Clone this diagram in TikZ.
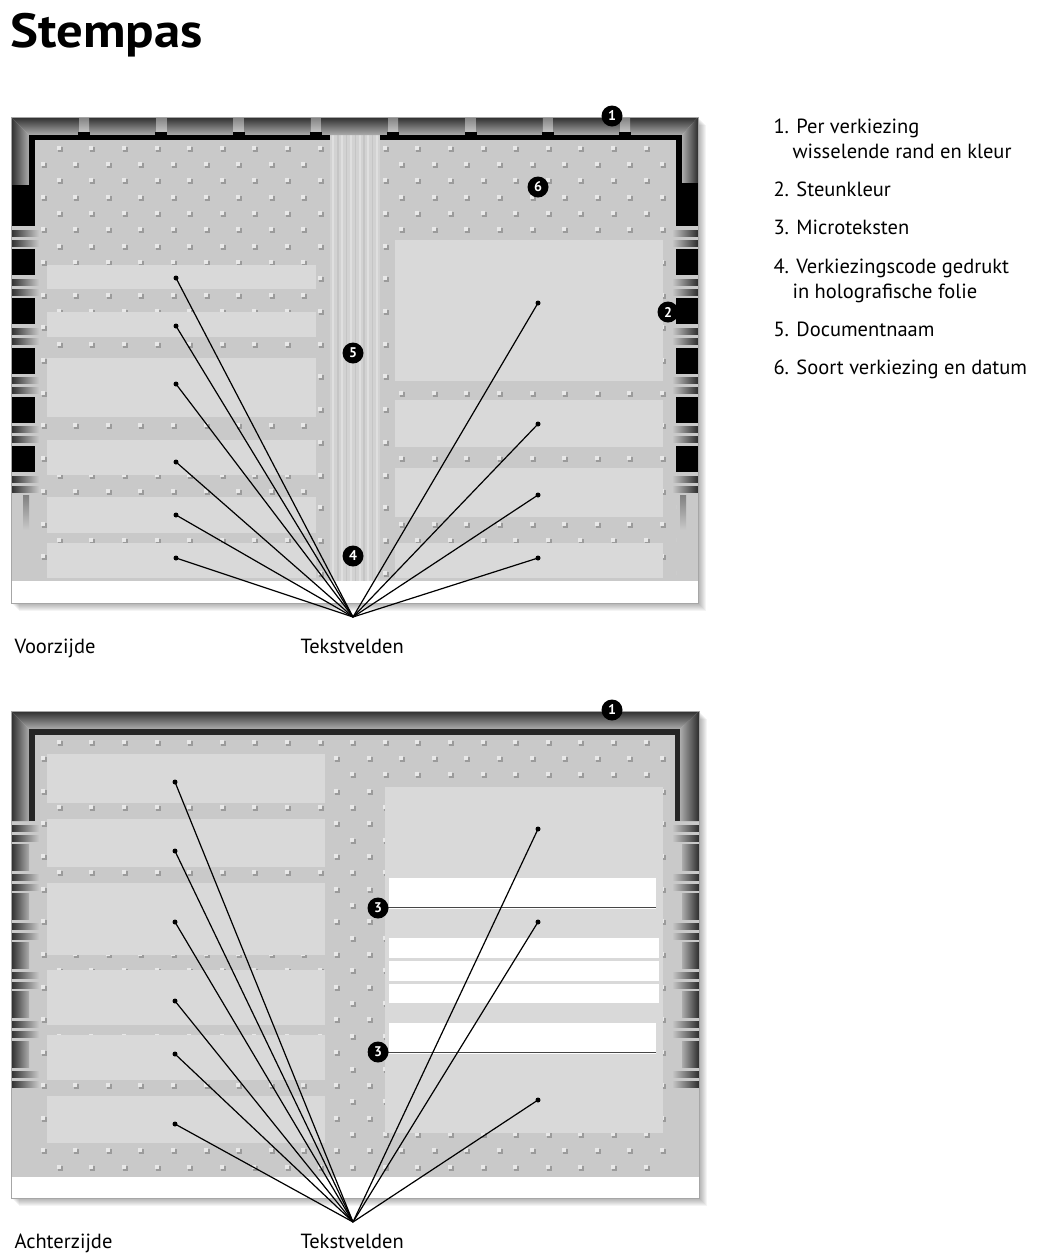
\documentclass[tikz,border=0pt]{standalone}
\usepackage{fontspec}
\usepackage{graphicx}
\setmainfont{PT Sans}
\definecolor{cardclr}{RGB}{201,201,201}
\definecolor{fieldclr}{RGB}{217,217,217}
\definecolor{framedark}{RGB}{45,45,45}
\definecolor{framelight}{RGB}{172,172,172}
\definecolor{dotlight}{RGB}{232,232,232}
\definecolor{dotdark}{RGB}{155,155,155}
\definecolor{holoclr}{RGB}{210,210,210}
\definecolor{microclr}{RGB}{70,70,70}

\tikzset{
  marker/.style={circle, fill=black, minimum size=21pt, inner sep=0pt,
                 text=white, font=\fontsize{14}{14}\selectfont\bfseries},
  fielddot/.style={circle, fill=black, minimum size=5pt, inner sep=0pt},
  connector/.style={line width=1.2pt, black},
  caption/.style={anchor=base west, font=\fontsize{20.5}{25}\selectfont},
  fieldbox/.style={fill=fieldclr},
}

% embossed dot grid, #1 = y of first row
\newcommand{\embossgrid}[1]{%
  \foreach \j in {0,...,26} {
    \pgfmathsetmacro\rowy{#1+16.35*\j}
    \pgfmathsetmacro\rowx{43+16.3*(1-mod(\j,2))}
    \foreach \k in {0,...,19} {
      \fill[dotdark] (\rowx+32.6*\k-1.5,\rowy-1.5) rectangle +(5,5);
      \fill[dotlight] (\rowx+32.6*\k-2.5,\rowy-2.5) rectangle +(4,4);
    }
  }}

\begin{document}
\begin{tikzpicture}[x=1pt, y=-1pt]
  \useasboundingbox (0,0) rectangle (1038,1259);
  \node[anchor=base west, inner sep=0pt, font=\fontsize{48}{48}\selectfont\bfseries] (title) at (10,47) {\scalebox{1.1}[1]{Stempas}};

  % ---- Voorzijde ----
  \foreach \i in {1,...,8}
    \fill[black, opacity=0.045] (11+\i,117+\i) rectangle (698+\i,603+\i);
  \fill[cardclr] (11,117) rectangle (698,603);
  \begin{scope}
    \clip (35,140) rectangle (676,581);
    \embossgrid{148}
  \end{scope}
  \fill[fieldbox] (47,265) rectangle (316,289);
  \fill[fieldbox] (47,312) rectangle (316,337);
  \fill[fieldbox] (47,358) rectangle (316,417);
  \fill[fieldbox] (47,440) rectangle (316,475);
  \fill[fieldbox] (47,497) rectangle (316,533);
  \fill[fieldbox] (47,543) rectangle (316,578);
  \fill[fieldbox] (395,240) rectangle (663,381);
  \fill[fieldbox] (395,400) rectangle (663,447);
  \fill[fieldbox] (395,468) rectangle (663,517);
  \fill[fieldbox] (395,543) rectangle (663,578);
  % holografische strook
  \fill[holoclr] (330,135) rectangle (380,581);
  \foreach \x in {333,342,351,360,368,377}
    \draw[white, opacity=0.3, line width=2.5pt] (\x,135) -- (\x,581);
  \foreach \x in {338,346.5,355.5,364,372.5}
    \draw[gray, opacity=0.15, line width=1.5pt] (\x,135) -- (\x,581);
  % rand
  \shade[top color=framedark, bottom color=framelight] (11,117) -- (698,117) -- (682,135) -- (29,135) -- cycle;
  \shade[left color=framedark, right color=framelight] (11,117) -- (29,135) -- (29,185) -- (11,185) -- cycle;
  \shade[right color=framedark, left color=framelight] (698,117) -- (698,183) -- (682,183) -- (682,135) -- cycle;
  \foreach \n in {0,...,7} {
    \shade[top color=gray, bottom color=framelight!70!white] (79+77.3*\n,117) rectangle (89+77.3*\n,132);
    \fill[black] (78+77.3*\n,132) rectangle (90+77.3*\n,140);
  }
  \fill[black] (29,135) rectangle (330,140);
  \fill[black] (380,135) rectangle (682,140);
  \fill[black] (29,135) rectangle (35,185);
  \fill[black] (676,135) rectangle (682,183);
  \fill[black] (11,185) rectangle (35,226);
  \fill[black] (676,183) rectangle (698,226);
  \foreach \n in {1,...,5} {
    \fill[black] (11,200+49.2*\n) rectangle (35,226+49.2*\n);
    \fill[black] (676,200+49.2*\n) rectangle (698,226+49.2*\n);
  }
  \foreach \n in {0,...,5} {
    \shade[left color=framedark, right color=cardclr] (11,230+49.2*\n) rectangle (39,236+49.2*\n);
    \shade[left color=framedark, right color=cardclr] (11,240+49.2*\n) rectangle (39,246+49.2*\n);
    \shade[left color=cardclr, right color=framedark] (672,230+49.2*\n) rectangle (698,236+49.2*\n);
    \shade[left color=cardclr, right color=framedark] (672,240+49.2*\n) rectangle (698,246+49.2*\n);
  }
  \shade[top color=gray, bottom color=cardclr] (23,495) rectangle (29,530);
  \shade[top color=gray, bottom color=cardclr] (680,495) rectangle (686,530);
  \fill[white] (11,581) rectangle (698,603);
  \draw[gray!70, line width=0.8pt] (11,117) rectangle (698,603);

  % tekstvelden voorzijde
  \coordinate (fapex) at (353,617);
  \node[fielddot] (fl1) at (176,278) {};
  \node[fielddot] (fl2) at (176,326) {};
  \node[fielddot] (fl3) at (176,384) {};
  \node[fielddot] (fl4) at (176,462) {};
  \node[fielddot] (fl5) at (176,515) {};
  \node[fielddot] (fl6) at (176,558) {};
  \node[fielddot] (fr1) at (538,303) {};
  \node[fielddot] (fr2) at (538,424) {};
  \node[fielddot] (fr3) at (538,495) {};
  \node[fielddot] (fr4) at (538,558) {};
  \foreach \d in {fl1,fl2,fl3,fl4,fl5,fl6,fr1,fr2,fr3,fr4}
    \draw[connector] (fapex) -- (\d.center);

  \node[marker] (fm1) at (612,116) {1};
  \node[marker] (fm6) at (538,187) {6};
  \node[marker] (fm2) at (668,312) {2};
  \node[marker] (fm5) at (353,353) {5};
  \node[marker] (fm4) at (353,556) {4};

  \node[caption] (front) at (11,653) {Voorzijde};
  \node[caption] (fvelden) at (297,653) {Tekstvelden};

  % ---- Achterzijde ----
  \foreach \i in {1,...,8}
    \fill[black, opacity=0.045] (11+\i,711+\i) rectangle (699+\i,1198+\i);
  \fill[cardclr] (11,711) rectangle (699,1198);
  \begin{scope}
    \clip (35,735) rectangle (675,1177);
    \embossgrid{742}
  \end{scope}
  \fill[fieldbox] (47,754) rectangle (325,803);
  \fill[fieldbox] (47,819) rectangle (325,867);
  \fill[fieldbox] (47,883) rectangle (325,955);
  \fill[fieldbox] (47,970) rectangle (325,1025);
  \fill[fieldbox] (47,1035) rectangle (325,1080);
  \fill[fieldbox] (47,1096) rectangle (325,1143);
  \fill[fieldbox] (385,787) rectangle (663,1133);
  % microteksten
  \filldraw[fill=white, draw=gray!30] (388,877) rectangle (656,909);
  \filldraw[fill=white, draw=gray!30] (388,937) rectangle (659,958);
  \filldraw[fill=white, draw=gray!30] (388,960) rectangle (659,981);
  \filldraw[fill=white, draw=gray!30] (388,983) rectangle (659,1003);
  \filldraw[fill=white, draw=gray!30] (388,1022) rectangle (656,1054);
  \draw[microclr, line width=0.8pt] (388,907) -- (656,907);
  \draw[microclr, line width=0.8pt] (388,1052) -- (656,1052);
  % rand
  \shade[top color=framedark, bottom color=framelight] (11,711) -- (699,711) -- (680,729) -- (29,729) -- cycle;
  \shade[left color=framedark, right color=framelight] (11,711) -- (29,729) -- (29,821) -- (11,821) -- cycle;
  \shade[right color=framedark, left color=framelight] (699,711) -- (699,821) -- (680,821) -- (680,729) -- cycle;
  \fill[black!85] (29,729) rectangle (680,735);
  \fill[black!85] (29,729) rectangle (35,821);
  \fill[black!85] (675,729) rectangle (680,821);
  \foreach \n in {1,...,5} {
    \shade[left color=framedark, right color=framelight] (11,795+49.2*\n) rectangle (29,821+49.2*\n);
    \shade[left color=framelight, right color=framedark] (682,795+49.2*\n) rectangle (699,821+49.2*\n);
  }
  \foreach \n in {0,...,5} {
    \shade[left color=framedark, right color=cardclr] (11,825+49.2*\n) rectangle (39,831+49.2*\n);
    \shade[left color=framedark, right color=cardclr] (11,835+49.2*\n) rectangle (39,841+49.2*\n);
    \shade[left color=cardclr, right color=framedark] (672,825+49.2*\n) rectangle (699,831+49.2*\n);
    \shade[left color=cardclr, right color=framedark] (672,835+49.2*\n) rectangle (699,841+49.2*\n);
  }
  \fill[white] (11,1177) rectangle (699,1198);
  \draw[gray!70, line width=0.8pt] (11,711) rectangle (699,1198);

  % tekstvelden achterzijde
  \coordinate (bapex) at (353,1222);
  \node[fielddot] (bl1) at (175,782) {};
  \node[fielddot] (bl2) at (175,851) {};
  \node[fielddot] (bl3) at (175,922) {};
  \node[fielddot] (bl4) at (175,1001) {};
  \node[fielddot] (bl5) at (175,1054) {};
  \node[fielddot] (bl6) at (175,1124) {};
  \node[fielddot] (br1) at (538,829) {};
  \node[fielddot] (br2) at (538,922) {};
  \node[fielddot] (br3) at (538,1100) {};
  \foreach \d in {bl1,bl2,bl3,bl4,bl5,bl6,br1,br2,br3}
    \draw[connector] (bapex) -- (\d.center);

  \node[marker] (bm1) at (612,710) {1};
  \node[marker] (bm3a) at (378,908) {3};
  \node[marker] (bm3b) at (378,1052) {3};

  \node[caption] (back) at (11,1248) {Achterzijde};
  \node[caption] (bvelden) at (297,1248) {Tekstvelden};

  % ---- legenda ----
  \node[caption] (item1) at (770,133) {1. Per verkiezing};
  \node[caption] (item1b) at (789,158) {wisselende rand en kleur};
  \node[caption] (item2) at (770,196) {2. Steunkleur};
  \node[caption] (item3) at (770,234) {3. Microteksten};
  \node[caption] (item4) at (770,273) {4. Verkiezingscode gedrukt};
  \node[caption] (item4b) at (789,298) {in holografische folie};
  \node[caption] (item5) at (770,336) {5. Documentnaam};
  \node[caption] (item6) at (770,374) {6. Soort verkiezing en datum};
\end{tikzpicture}
\end{document}
